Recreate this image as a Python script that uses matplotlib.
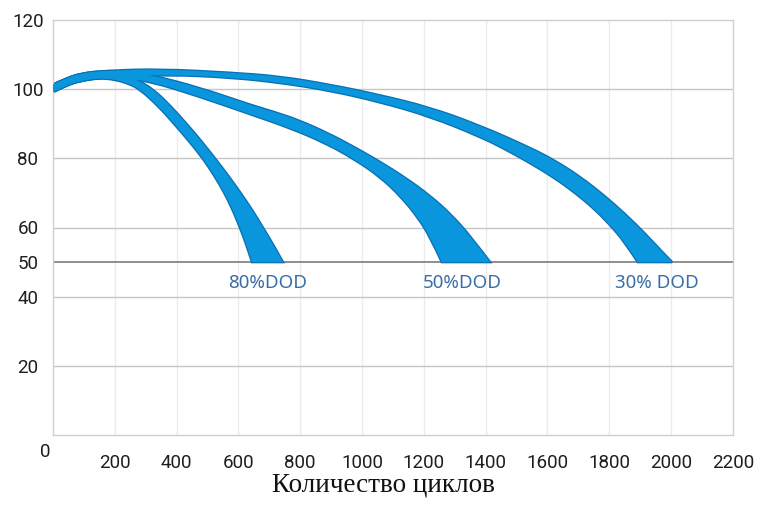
import matplotlib
matplotlib.use("Agg")
import matplotlib.pyplot as plt
from matplotlib import font_manager
from matplotlib.path import Path
from matplotlib.patches import PathPatch

# Данные (читаются с картинки): края полос ёмкости, % от номинала
x_ticks = [0, 200, 400, 600, 800, 1000, 1200, 1400, 1600, 1800, 2000, 2200]
y_ticks = [0, 20, 40, 50, 60, 80, 100, 120]

dod80_top_x = [0, 40, 90, 150, 210, 270, 324, 382, 432, 480, 524, 567, 607, 645, 679, 713, 744]
dod80_top_y = [101.3, 103, 104.5, 105.1, 104.6, 102.8, 100, 95, 90, 85, 80, 75, 70, 65, 60, 55, 50]
dod80_bot_x = [0, 40, 90, 150, 200, 245, 281, 342, 392, 440, 485, 522, 555, 582, 605, 626, 644]
dod80_bot_y = [99.2, 101, 102.5, 103.2, 102.8, 101.6, 100, 95, 90, 85, 80, 75, 70, 65, 60, 55, 50]

dod50_top_x = [0, 40, 90, 150, 210, 314, 476, 637, 720, 799, 896, 980, 1058, 1140, 1220, 1290, 1355, 1414]
dod50_top_y = [101.3, 103, 104.5, 105.2, 105.3, 104.2, 100.4, 95.5, 93.3, 90.9, 87.0, 83.0, 79.0, 74.4, 69.2, 63.6, 57.0, 50]
dod50_bot_x = [0, 40, 90, 150, 210, 314, 476, 637, 760, 880, 980, 1060, 1125, 1180, 1222, 1258]
dod50_bot_y = [99.2, 101, 102.5, 103.3, 103.4, 102.3, 97.8, 92.8, 89, 84.5, 79.5, 74.5, 69, 63, 57, 50]

dod30_top_x = [0, 40, 90, 184, 346, 573, 734, 896, 1058, 1220, 1381, 1543, 1625, 1705, 1780, 1850, 1915, 1970, 2003]
dod30_top_y = [101.3, 103, 104.5, 105.4, 105.8, 104.8, 103.7, 101.3, 98.3, 94.7, 89.5, 83.1, 79.3, 74.7, 69.5, 64, 58.3, 53, 50]
dod30_bot_x = [0, 40, 90, 184, 378, 573, 734, 896, 1058, 1220, 1381, 1460, 1543, 1620, 1690, 1750, 1800, 1850, 1892]
dod30_bot_y = [99.2, 101, 102.5, 103.6, 104.2, 103.4, 101.9, 99.6, 96.3, 92.1, 86.3, 82.8, 78.7, 74.5, 70, 65.5, 61, 55.8, 50]

labels = ["80%DOD", "50%DOD", "30% DOD"]
label_x = [695, 1323, 1954]
label_y = 44

bands = [
    (dod80_top_x, dod80_top_y, dod80_bot_x, dod80_bot_y),
    (dod50_top_x, dod50_top_y, dod50_bot_x, dod50_bot_y),
    (dod30_top_x, dod30_top_y, dod30_bot_x, dod30_bot_y),
]

fill_color = "#0996dc"
edge_color = "#0b6fb3"


def smooth_edge(xs, ys, first):
    # квадратичные кривые Безье через середины отрезков, точки - контрольные
    pts = list(zip(xs, ys))
    verts = [pts[0]]
    codes = [Path.MOVETO if first else Path.LINETO]
    for i in range(1, len(pts) - 1):
        mid = ((pts[i][0] + pts[i + 1][0]) / 2, (pts[i][1] + pts[i + 1][1]) / 2)
        if i == len(pts) - 2:
            mid = pts[-1]
        verts += [pts[i], mid]
        codes += [Path.CURVE3, Path.CURVE3]
    return verts, codes


def band_path(tx, ty, bx, by):
    v1, c1 = smooth_edge(tx, ty, True)
    v2, c2 = smooth_edge(bx[::-1], by[::-1], False)
    verts = v1 + v2 + [v1[0]]
    codes = c1 + c2 + [Path.CLOSEPOLY]
    return Path(verts, codes)


# шрифт для подписей осей - узкий, если есть
names = {f.name for f in font_manager.fontManager.ttflist}
if "Liberation Sans Narrow" in names:
    tick_font, tick_size = "Liberation Sans Narrow", 15
else:
    tick_font, tick_size = "Roboto", 13.5

fig = plt.figure(figsize=(7.6, 5.2), dpi=100)
ax = fig.add_axes([0.0697, 0.1635, 0.8947, 0.798])

ax.set_xlim(0, 2200)
ax.set_ylim(0, 120)

# сетка
for xv in x_ticks[1:-1]:
    ax.axvline(xv, color="#ececec", lw=1, zorder=0)
for yv in [20, 40, 60, 80, 100]:
    ax.axhline(yv, color="#c6c6c6", lw=1, zorder=1)
ax.axhline(50, color="#7c7c7c", lw=1.2, zorder=1)

for s in ax.spines.values():
    s.set_color("#d0d0d0")
    s.set_linewidth(1)

# полосы: сначала контуры, потом заливка поверх
for tx, ty, bx, by in bands:
    ax.add_patch(PathPatch(band_path(tx, ty, bx, by), facecolor=fill_color,
                           edgecolor=edge_color, lw=1.8, zorder=2))
for tx, ty, bx, by in bands:
    ax.add_patch(PathPatch(band_path(tx, ty, bx, by), facecolor=fill_color,
                           edgecolor="none", zorder=3))

for lab, lx in zip(labels, label_x):
    ax.text(lx, label_y, lab, color="#3a6da6", fontsize=13.5, family="Noto Sans",
            ha="center", va="center", zorder=4)

# подписи осей
ax.set_xticks(x_ticks)
ax.set_xticklabels([""] + [str(v) for v in x_ticks[1:]])
ax.set_yticks(y_ticks)
ax.set_yticklabels(["" if v == 0 else str(v) for v in y_ticks])
ax.tick_params(axis="both", which="major", length=0)
ax.tick_params(axis="x", pad=14)
ax.tick_params(axis="y", pad=18)
for t in ax.get_xticklabels() + ax.get_yticklabels():
    t.set_family(tick_font)
    t.set_fontsize(tick_size)
    t.set_color("#1e1e1e")
for t in ax.get_yticklabels():
    t.set_horizontalalignment("center")

ax.set_yticks([20, 40], minor=True)
ax.tick_params(axis="y", which="minor", direction="in", length=7, width=1, color="#9a9a9a")

ax.text(-25, -5, "0", family=tick_font, fontsize=tick_size, color="#1e1e1e",
        ha="center", va="center")

fig.text(0.504, 0.067, "Количество циклов", family="Liberation Serif",
         fontsize=19.5, ha="center", va="center", color="#111111")

fig.savefig("out.png", dpi=100)
